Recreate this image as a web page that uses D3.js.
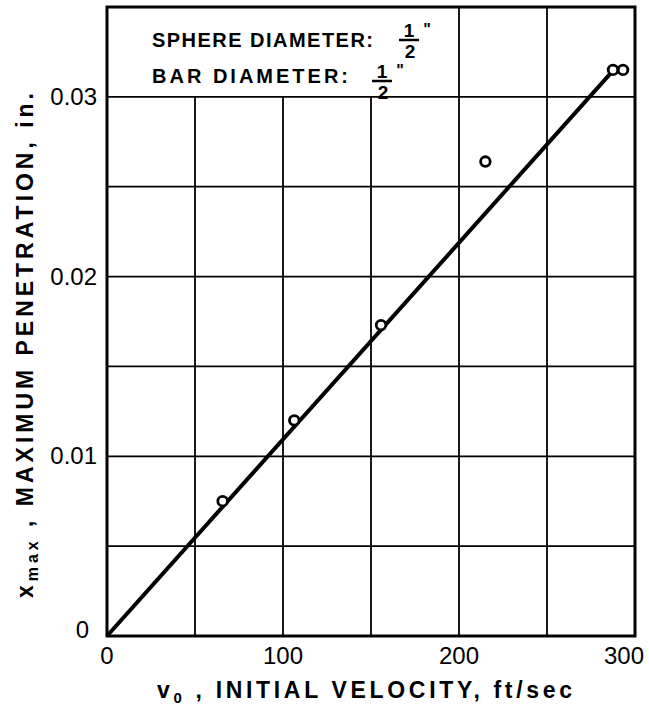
<!DOCTYPE html>
<html>
<head>
<meta charset="utf-8">
<script src="https://cdn.jsdelivr.net/npm/d3@7"></script>
<style>
  body { margin: 0; background: #fff; }
  text { fill: #000; }
</style>
</head>
<body>
<svg id="chart" width="649" height="708"></svg>
<script>
const velocity = [65.7, 106.4, 155.7, 215, 287.5, 293.2];
const penetration = [0.0075, 0.012, 0.0173, 0.0264, 0.0315, 0.0315];
// straight line through the data
const fitVelocity = [0, 287];
const fitPenetration = [0, 0.0314];
const xTickLabels = [0, 100, 200, 300];
const yTickLabels = [0, 0.01, 0.02, 0.03];
const xGrid = [50, 100, 150, 200, 250];
const yGrid = [0.005, 0.01, 0.015, 0.02, 0.025, 0.03];

const width = 649, height = 708;
const margin = { top: 7, right: 14, bottom: 72, left: 107 };

const svg = d3.select("#chart");

const x = d3.scaleLinear().domain([0, 300]).range([margin.left, width - margin.right]);
const y = d3.scaleLinear().domain([0, 0.035]).range([height - margin.bottom, margin.top]);

const font = "'Liberation Sans', Arial, sans-serif";

// grid - the legend box hides the upper part of the left columns
svg.append("g")
  .selectAll("line")
  .data(xGrid)
  .enter()
  .append("line")
  .attr("x1", (d) => x(d))
  .attr("x2", (d) => x(d))
  .attr("y1", y(0))
  .attr("y2", (d) => (d < 200 ? y(0.03) : y(0.035)))
  .attr("stroke", "#000")
  .attr("stroke-width", 1.8);

svg.append("g")
  .selectAll("line")
  .data(yGrid)
  .enter()
  .append("line")
  .attr("x1", x(0))
  .attr("x2", x(300))
  .attr("y1", (d) => y(d))
  .attr("y2", (d) => y(d))
  .attr("stroke", "#000")
  .attr("stroke-width", 1.8);

// frame
svg.append("rect")
  .attr("x", x(0))
  .attr("y", y(0.035))
  .attr("width", x(300) - x(0))
  .attr("height", y(0) - y(0.035))
  .attr("fill", "none")
  .attr("stroke", "#000")
  .attr("stroke-width", 3);

// tick labels
svg.append("g")
  .selectAll("text")
  .data(xTickLabels)
  .enter()
  .append("text")
  .attr("x", (d) => (d === 300 ? x(d) - 11 : x(d)))
  .attr("y", 664)
  .attr("text-anchor", "middle")
  .attr("font-family", font)
  .attr("font-size", 24)
  .text((d) => d);

svg.append("g")
  .selectAll("text")
  .data(yTickLabels)
  .enter()
  .append("text")
  .attr("x", (d) => (d === 0 ? 89 : 97))
  .attr("y", (d) => (d === 0 ? y(d) + 2 : y(d) + 8))
  .attr("text-anchor", "end")
  .attr("font-family", font)
  .attr("font-size", 24)
  .text((d) => (d === 0 ? "0" : d3.format(".2f")(d)));

// fitted line
const line = d3.line()
  .x((d) => x(d[0]))
  .y((d) => y(d[1]));

svg.append("path")
  .datum(d3.zip(fitVelocity, fitPenetration))
  .attr("d", line)
  .attr("fill", "none")
  .attr("stroke", "#000")
  .attr("stroke-width", 4);

// data points
svg.append("g")
  .selectAll("circle")
  .data(d3.zip(velocity, penetration))
  .enter()
  .append("circle")
  .attr("cx", (d) => x(d[0]))
  .attr("cy", (d) => y(d[1]))
  .attr("r", 4.8)
  .attr("fill", "#fff")
  .attr("stroke", "#000")
  .attr("stroke-width", 2.8);

// legend text
const legend = svg.append("g")
  .attr("font-family", font)
  .attr("font-weight", "bold");

legend.append("text")
  .attr("x", 152)
  .attr("y", 47)
  .attr("font-size", 20)
  .attr("textLength", 221)
  .attr("lengthAdjust", "spacing")
  .text("SPHERE DIAMETER:");

legend.append("text")
  .attr("x", 152)
  .attr("y", 83)
  .attr("font-size", 20)
  .attr("textLength", 196)
  .attr("lengthAdjust", "spacing")
  .text("BAR DIAMETER:");

function fraction(cx, top) {
  legend.append("text")
    .attr("x", cx)
    .attr("y", top + 16)
    .attr("text-anchor", "middle")
    .attr("font-size", 19)
    .text("1");
  legend.append("line")
    .attr("x1", cx - 10)
    .attr("x2", cx + 10)
    .attr("y1", top + 19)
    .attr("y2", top + 19)
    .attr("stroke", "#000")
    .attr("stroke-width", 2.5);
  legend.append("text")
    .attr("x", cx + 1)
    .attr("y", top + 37)
    .attr("text-anchor", "middle")
    .attr("font-size", 19)
    .text("2");
  legend.append("text")
    .attr("x", cx + 18)
    .attr("y", top + 14)
    .attr("text-anchor", "middle")
    .attr("font-size", 16)
    .text("\"");
}
fraction(409, 21);
fraction(382, 62);

// axis titles
const xTitle = svg.append("text")
  .attr("x", 157)
  .attr("y", 698)
  .attr("font-family", font)
  .attr("font-weight", "bold")
  .attr("font-size", 23)
  .attr("textLength", 415)
  .attr("lengthAdjust", "spacing");
xTitle.append("tspan").text("v");
xTitle.append("tspan").attr("font-size", 15).attr("dy", 5).text("0");
xTitle.append("tspan").attr("dy", -5).text(" ,  INITIAL  VELOCITY,  ft/sec");

const yTitle = svg.append("text")
  .attr("transform", "translate(33,598) rotate(-90)")
  .attr("font-family", font)
  .attr("font-weight", "bold")
  .attr("font-size", 23)
  .attr("textLength", 505)
  .attr("lengthAdjust", "spacing");
yTitle.append("tspan").text("x");
yTitle.append("tspan").attr("font-size", 16).attr("dy", 5).text("max");
yTitle.append("tspan").attr("dy", -5).text(" ,  MAXIMUM  PENETRATION,  in.");
</script>
</body>
</html>
